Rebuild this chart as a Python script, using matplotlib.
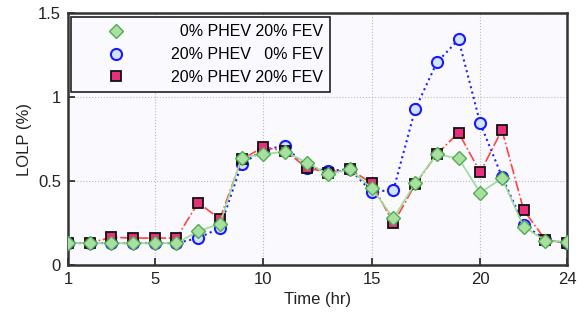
import matplotlib
matplotlib.use("Agg")
import matplotlib.pyplot as plt

hours = list(range(1, 25))
fev_only = [0.13, 0.13, 0.13, 0.13, 0.13, 0.13, 0.20, 0.245, 0.64, 0.66, 0.675, 0.61,
            0.54, 0.57, 0.456, 0.278, 0.486, 0.659, 0.635, 0.43, 0.516, 0.228, 0.145, 0.135]
phev_only = [0.13, 0.13, 0.13, 0.13, 0.13, 0.13, 0.16, 0.22, 0.60, 0.685, 0.71, 0.58,
             0.56, 0.57, 0.436, 0.446, 0.927, 1.206, 1.343, 0.843, 0.526, 0.24, 0.15, 0.13]
both = [0.13, 0.13, 0.165, 0.16, 0.16, 0.16, 0.371, 0.274, 0.63, 0.70, 0.68, 0.58,
        0.55, 0.57, 0.486, 0.248, 0.48, 0.66, 0.788, 0.552, 0.804, 0.327, 0.15, 0.13]
labels = ["\u20070% PHEV 20% FEV", "20% PHEV \u20070% FEV", "20% PHEV 20% FEV"]
xticks = [1, 5, 10, 15, 20, 24]
yticks = [0, 0.5, 1, 1.5]
yticklabels = ["0", "0.5", "1", "1.5"]

plt.rcParams['font.family'] = ['Liberation Sans', 'DejaVu Sans']

fig = plt.figure(figsize=(5.87, 3.2), dpi=100)
ax = fig.add_axes([0.1158, 0.172, 0.966 - 0.1158, 0.959 - 0.172])
ax.set_facecolor('#faf9fd')

ax.plot(hours, fev_only, linestyle='-', color='#99dd99', lw=1.2, marker='D', ms=7,
        mfc='#a8e0a0', mec='#55aa55', mew=1.0, label=labels[0], zorder=3)
ax.plot(hours, phev_only, linestyle=':', color='#2222ff', lw=1.5, marker='o', ms=8,
        mfc='#d0e4ff', mec='#1a1aff', mew=1.5, label=labels[1], zorder=2)
ax.plot(hours, both, linestyle='-.', color='#ff4444', lw=1.2, marker='s', ms=6.5,
        mfc='#e8307a', mec='#111111', mew=1.3, label=labels[2], zorder=2.5)

ax.set_xlim(1, 24)
ax.set_ylim(0, 1.5)
ax.set_xticks(xticks)
ax.set_yticks(yticks)
ax.set_yticklabels(yticklabels)
ax.tick_params(direction='in', labelsize=12, colors='#222222', length=5, width=1.2, pad=5)
ax.grid(True, linestyle=':', color='#bbbbbb', lw=0.8)
for s in ax.spines.values():
    s.set_linewidth(1.8)
    s.set_color('#333333')

ax.set_xlabel('Time (hr)', fontsize=12, color='#222222')
ax.set_ylabel('LOLP (%)', fontsize=12, color='#222222')

leg = ax.legend(loc='upper left', bbox_to_anchor=(0.006, 0.983), fontsize=11.5,
                fancybox=False, edgecolor='#222222', framealpha=1, facecolor='#faf9fd',
                handlelength=4.8, handletextpad=1.05, borderpad=0.42, labelspacing=0.5,
                borderaxespad=0)
leg.get_frame().set_linewidth(1.2)
for h in leg.get_lines():
    h.set_linestyle('none')

fig.savefig('out.png', dpi=100)
